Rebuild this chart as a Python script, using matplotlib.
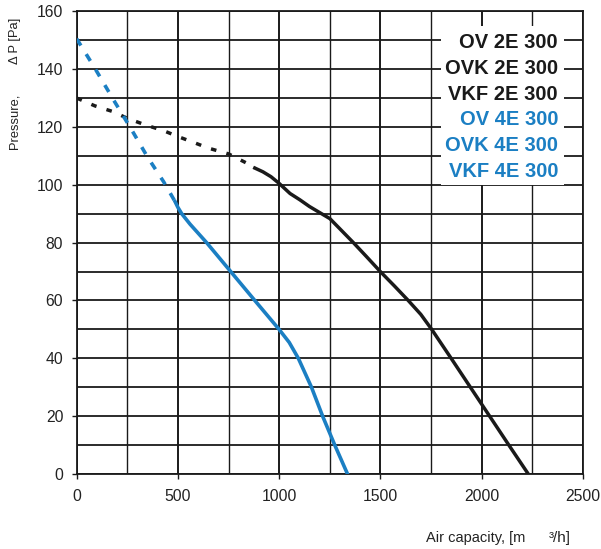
import matplotlib
matplotlib.use("Agg")
import matplotlib.pyplot as plt
from matplotlib.patches import Rectangle
from matplotlib.ticker import MultipleLocator

plt.rcParams['font.family'] = ['Liberation Sans', 'DejaVu Sans']

# 2E 300 curve (black): dashed part, then solid part
x_2e_dash = [0, 90, 180, 250, 340, 430, 500, 580, 650, 750, 840, 880]
y_2e_dash = [130, 127.3, 125.3, 123, 120.7, 118.7, 116.7, 114.6, 112.7, 110.7, 107.5, 105.8]
x_2e = [880, 920, 960, 1000, 1054, 1103, 1150, 1210, 1251, 1300, 1367, 1430, 1500,
        1570, 1638, 1700, 1754, 1850, 1945, 2040, 2135, 2231]
y_2e = [105.8, 104.5, 102.8, 100.5, 97, 94.8, 92.5, 90, 88.3, 84.8, 80, 75.3, 70,
        65, 60, 55.2, 50, 40, 30, 20, 10, 0]

# 4E 300 curve (blue): dashed part, then solid part
x_4e_dash = [0, 90, 180, 270, 350, 430, 486]
y_4e_dash = [150.5, 140.3, 129.6, 119.2, 109.6, 101, 94.2]
x_4e = [486, 500, 519, 560, 642, 761, 880, 1000, 1050, 1095, 1160, 1215, 1275, 1338]
y_4e = [94.2, 92.2, 90, 86.4, 80, 70, 60, 50, 45.5, 40, 30, 20, 10, 0]

labels = ["OV 2E 300", "OVK 2E 300", "VKF 2E 300", "OV 4E 300", "OVK 4E 300", "VKF 4E 300"]
label_groups = ["2E", "2E", "2E", "4E", "4E", "4E"]

BLACK = "#1a1a1a"
BLUE = "#1b7fc3"
colors = {"2E": BLACK, "4E": BLUE}

fig = plt.figure(figsize=(6.01, 5.49), dpi=100)
ax = fig.add_axes([0.1276, 0.1366, 0.842, 0.8428])

ax.set_xlim(0, 2500)
ax.set_ylim(0, 160)
ax.xaxis.set_major_locator(MultipleLocator(500))
ax.xaxis.set_minor_locator(MultipleLocator(250))
ax.yaxis.set_major_locator(MultipleLocator(20))
ax.yaxis.set_minor_locator(MultipleLocator(10))

ax.grid(True, axis='x', which='major', color=BLACK, lw=1.4)
ax.grid(True, axis='x', which='minor', color=BLACK, lw=1.0)
ax.grid(True, axis='y', which='both', color=BLACK, lw=1.3)

ax.tick_params(which='major', direction='out', length=3.6, width=1.0, color=BLACK,
               labelsize=11.3, labelcolor="#222222")
ax.tick_params(axis='x', which='major', pad=7)
ax.tick_params(axis='y', which='major', pad=6)
ax.tick_params(which='minor', length=0)
for s in ax.spines.values():
    s.set_color(BLACK)
    s.set_linewidth(1.3)

# white box behind the model names
ax.add_patch(Rectangle((1800, 100), 605, 55, facecolor='white', edgecolor='none', zorder=2))

ax.plot(x_2e_dash, y_2e_dash, color=BLACK, lw=2.5, dashes=(1.6, 3.0), zorder=3,
        solid_capstyle='butt')
ax.plot(x_2e, y_2e, color=BLACK, lw=2.5, zorder=3, solid_joinstyle='round')
ax.plot(x_4e_dash, y_4e_dash, color=BLUE, lw=2.6, dashes=(2.2, 2.8), zorder=3)
ax.plot(x_4e, y_4e, color=BLUE, lw=2.6, zorder=3, solid_joinstyle='round')

for i, (lab, grp) in enumerate(zip(labels, label_groups)):
    ax.text(2378, 149.2 - i * 8.9, lab, ha='right', va='center', fontsize=14.5,
            fontweight='bold', color=colors[grp], zorder=4)

fig.text(15 / 601, 1 - 121 / 549, "Pressure,", rotation=90, ha='center', va='center',
         fontsize=9.3, color="#222222")
fig.text(15 / 601, 1 - 41 / 549, "Δ P [Pa]", rotation=90, ha='center', va='center',
         fontsize=9.3, color="#222222")
fig.text(426 / 601, 1 - 538 / 549, "Air capacity, [m", ha='left', va='center',
         fontsize=10.5, color="#222222")
fig.text(549 / 601, 1 - 538 / 549, "³/h]", ha='left', va='center',
         fontsize=11, color="#222222")

fig.savefig("out.png", dpi=100)
